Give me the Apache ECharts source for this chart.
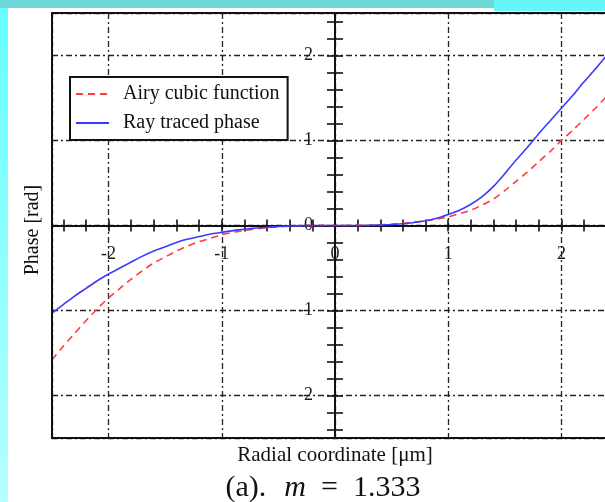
<!DOCTYPE html>
<html>
<head>
<meta charset="utf-8">
<script src="https://cdn.jsdelivr.net/npm/echarts@6/dist/echarts.min.js"></script>
<style>
html,body{margin:0;padding:0;background:#fff;}
#chart{width:605px;height:502px;}
</style>
</head>
<body>
<div id="chart"></div>
<script>
// ---- data ----
const radial = [-2.5,-2.4,-2.3,-2.2,-2.1,-2.0,-1.9,-1.8,-1.7,-1.6,-1.5,-1.4,-1.3,-1.2,-1.1,-1.0,-0.9,-0.8,-0.7,-0.6,-0.5,-0.4,-0.3,-0.2,-0.1,0,0.1,0.2,0.3,0.4,0.5,0.6,0.7,0.8,0.9,1.0,1.1,1.2,1.3,1.4,1.5,1.6,1.7,1.8,1.9,2.0,2.1,2.2,2.3,2.4,2.5];
const airyPhase = [-1.58,-1.42,-1.27,-1.12,-0.98,-0.85,-0.74,-0.63,-0.53,-0.44,-0.37,-0.30,-0.24,-0.19,-0.15,-0.11,-0.08,-0.06,-0.04,-0.025,-0.015,-0.008,-0.003,-0.001,0,0,0,0.001,0.003,0.008,0.015,0.025,0.04,0.055,0.075,0.10,0.14,0.18,0.24,0.31,0.41,0.52,0.63,0.75,0.87,1.00,1.12,1.25,1.38,1.52,1.66];
const rayPhase = [-1.03,-0.93,-0.83,-0.74,-0.65,-0.57,-0.50,-0.43,-0.36,-0.30,-0.25,-0.20,-0.16,-0.13,-0.10,-0.08,-0.06,-0.045,-0.03,-0.02,-0.012,-0.006,-0.002,0,0,0,0,0,0.002,0.006,0.012,0.02,0.035,0.055,0.085,0.13,0.18,0.25,0.34,0.46,0.61,0.77,0.92,1.08,1.23,1.38,1.53,1.69,1.84,2.00,2.15];
const seriesNames = ['Airy cubic function','Ray traced phase'];
const axisRange = [-2.5, 2.5];
const xTitle = 'Radial coordinate [\u03bcm]';
const yTitle = 'Phase [rad]';

const serif = 'Liberation Serif';
const chart = echarts.init(document.getElementById('chart'), null, {renderer:'canvas'});

function pairs(xs, ys){ return xs.map((x,i)=>[x, ys[i]]); }

// layout (pixels)
const G = {left:52, top:13, width:566, height:425};
const xZeroOffset = -(G.height * (0 - axisRange[0]) / (axisRange[1]-axisRange[0]));   // move x axis up to y=0
const yZeroOffset = -(G.width * (0 - axisRange[0]) / (axisRange[1]-axisRange[0]));    // move y axis right to x=0

const gridDash = {color:'#222', width:1.3, type:[6,3,2,3]};

function tickAxis(pos, off, inside, len){
  return {
    type:'value', min:axisRange[0], max:axisRange[1], splitNumber:25,
    position:pos, offset:off,
    axisLine:{show:false, onZero:false},
    axisTick:{show:true, inside:inside, length:len, lineStyle:{color:'#111', width:1.6}},
    axisLabel:{show:false}, splitLine:{show:false}
  };
}
function mainAxis(pos, off, margin){
  return {
    type:'value', min:axisRange[0], max:axisRange[1], splitNumber:5, position:pos, offset:off,
    axisLine:{show:true, onZero:false, lineStyle:{color:'#111', width:2}},
    axisTick:{show:false},
    axisLabel:{show:true, margin:margin, fontFamily:serif, fontSize:18, color:'#1a1a1a', showMinLabel:false, showMaxLabel:false},
    splitLine:{show:true, lineStyle:gridDash}
  };
}

const option = {
  animation:false,
  backgroundColor:'#ffffff',
  grid:{left:G.left, top:G.top, width:G.width, height:G.height, containLabel:false, outerBoundsMode:'none',
        show:true, borderColor:'#111', borderWidth:2, backgroundColor:'transparent', z:6},
  legend:{
    orient:'vertical', left:70, top:77,
    padding:[7,8,7,5], itemWidth:33, itemHeight:14, itemGap:9,
    backgroundColor:'#fff', borderColor:'#111', borderWidth:2, borderRadius:0,
    itemStyle:{opacity:0, borderWidth:0},
    textStyle:{fontFamily:serif, fontSize:20, color:'#111', padding:[0,0,0,9]},
    data:seriesNames, z:10
  },
  xAxis:[
    mainAxis('bottom', xZeroOffset, 20),
    tickAxis('bottom', xZeroOffset, false, 6),
    tickAxis('bottom', xZeroOffset, true, 6)
  ],
  yAxis:[
    mainAxis('left', yZeroOffset, 22),
    tickAxis('left', yZeroOffset, false, 8),
    tickAxis('left', yZeroOffset, true, 8)
  ],
  series:[
    {
      name:seriesNames[0], type:'line', xAxisIndex:0, yAxisIndex:0,
      data:pairs(radial, airyPhase), showSymbol:false, symbol:'none', smooth:0.2,
      lineStyle:{color:'#ff3b3b', width:1.6, type:[7,5]}, itemStyle:{color:'#ff3b3b'}, z:3
    },
    {
      name:seriesNames[1], type:'line', xAxisIndex:0, yAxisIndex:0,
      data:pairs(radial, rayPhase), showSymbol:false, symbol:'none', smooth:0.2,
      lineStyle:{color:'#3a3aff', width:1.6}, itemStyle:{color:'#3a3aff'}, z:4
    }
  ],
  graphic:[
    {type:'rect', shape:{x:0, y:0, width:494, height:8}, style:{fill:'#6dd9d9'}, silent:true, z:0},
    {type:'rect', shape:{x:494, y:0, width:111, height:11}, style:{fill:'#66f6f6'}, silent:true, z:0},
    {type:'rect', shape:{x:0, y:8, width:8, height:494},
     style:{fill:new echarts.graphic.LinearGradient(0,0,0,1,[{offset:0,color:'#66ffff'},{offset:1,color:'#b5ffff'}])}, silent:true, z:0},
    {type:'text', x:335, y:455, style:{text:xTitle, font:'21px "Liberation Serif"', fill:'#111', align:'center', verticalAlign:'middle'}, z:10},
    {type:'text', x:33, y:230, rotation:Math.PI/2, style:{text:yTitle, font:'20px "Liberation Serif"', fill:'#111', align:'center', verticalAlign:'middle'}, z:10},
    {type:'text', x:323, y:488, style:{
      text:'{a|(a).}{i|m}{e|=}{n|1.333}', fill:'#111', align:'center', verticalAlign:'middle',
      rich:{
        a:{fontFamily:serif, fontSize:30, padding:[0,18,0,0]},
        i:{fontFamily:serif, fontSize:30, fontStyle:'italic', padding:[0,15,0,0]},
        e:{fontFamily:serif, fontSize:30, padding:[0,15,0,0]},
        n:{fontFamily:serif, fontSize:30}
      }
    }, z:10}
  ]
};
chart.setOption(option);
</script>
</body>
</html>
